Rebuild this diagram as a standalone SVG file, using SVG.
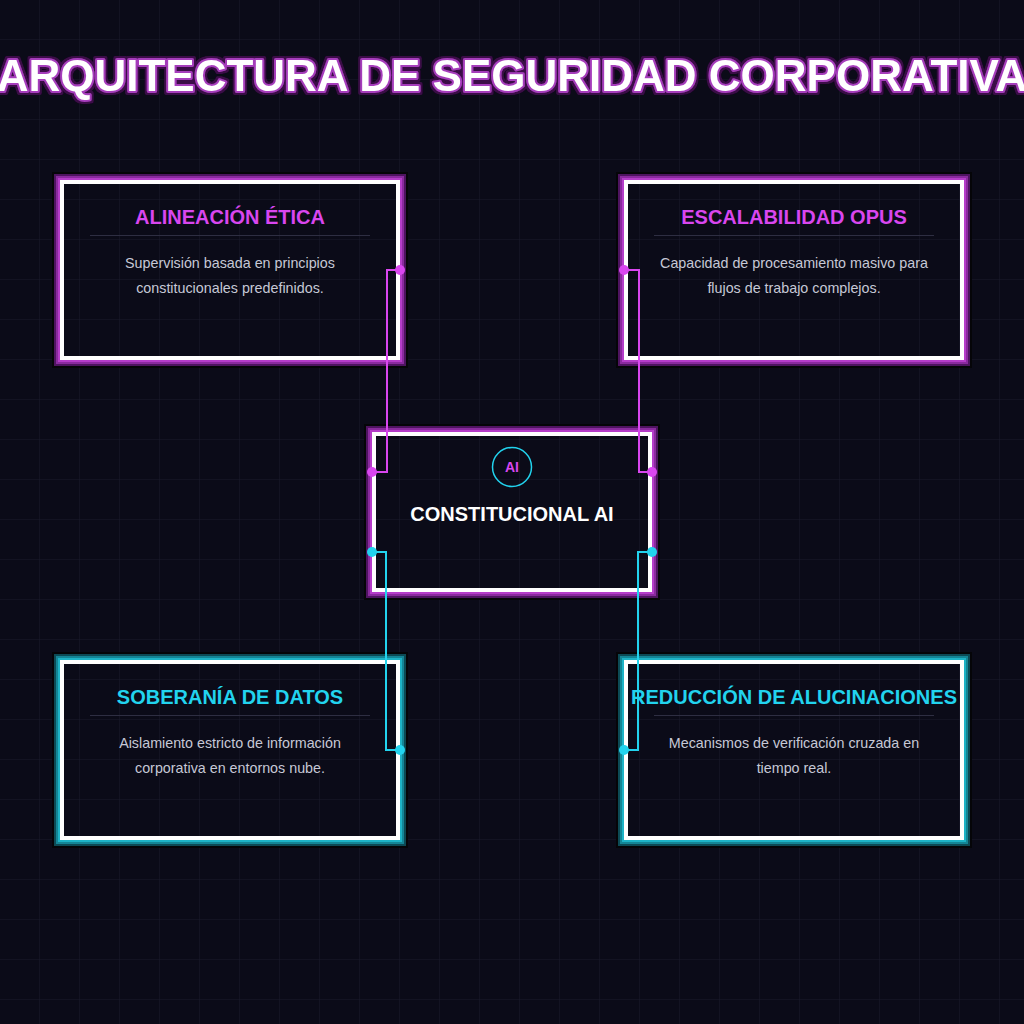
<svg xmlns="http://www.w3.org/2000/svg" width="1024" height="1024" viewBox="0 0 1024 1024">
<defs>
<pattern id="grid" width="40" height="40" patternUnits="userSpaceOnUse">
<path d="M40 0V40M0 40H40" fill="none" stroke="#1a1a2c" stroke-width="1"/>
</pattern>
<filter id="halo" x="-5%" y="-30%" width="110%" height="160%">
<feMorphology in="SourceAlpha" operator="dilate" radius="2" result="d"/>
<feFlood flood-color="#3a0a46"/>
<feComposite in2="d" operator="in" result="h"/>
<feMerge><feMergeNode in="h"/><feMergeNode in="SourceGraphic"/></feMerge>
</filter>
<style>
.b0{fill:none;stroke:#050508;stroke-width:2}
.m1{fill:none;stroke:#4e1460;stroke-width:2}
.m2{fill:none;stroke:#8a2a9e;stroke-width:2}
.m3{fill:none;stroke:#b53cc9;stroke-width:2}
.c1{fill:none;stroke:#0c4a55;stroke-width:2}
.c2{fill:none;stroke:#148595;stroke-width:2}
.c3{fill:none;stroke:#1db3c6;stroke-width:2}
.w{fill:none;stroke:#ffffff;stroke-width:4}
.title{font-family:"Liberation Sans",Arial,sans-serif;font-weight:bold;font-size:44px;fill:#ffffff;stroke:#a53cbb;stroke-width:4;paint-order:stroke;stroke-linejoin:round}
.h{font-family:"Liberation Sans",Arial,sans-serif;font-weight:bold;font-size:20px;text-anchor:middle}
.hm{fill:#d946ef}
.hc{fill:#22d3ee}
.body{font-family:"Liberation Sans",Arial,sans-serif;font-size:14.3px;fill:#c6c8d6;text-anchor:middle}
.sep{stroke:#2e2e42;stroke-width:1}
.lm{fill:none;stroke:#d946ef;stroke-width:2}
.lc{fill:none;stroke:#22d3ee;stroke-width:2}
.dm{fill:#d946ef}
.dc{fill:#22d3ee}
</style>
</defs>
<rect width="1024" height="1024" fill="#0b0b18"/>
<rect width="1024" height="1024" fill="url(#grid)"/>

<text class="title" x="512" y="91" text-anchor="middle" filter="url(#halo)">ARQUITECTURA DE SEGURIDAD CORPORATIVA</text>

<g id="node-alineacion">
<rect class="b0" x="53" y="173" width="354" height="194"/>
<rect class="m1" x="55" y="175" width="350" height="190"/>
<rect class="m2" x="57" y="177" width="346" height="186"/>
<rect class="m3" x="59" y="179" width="342" height="182"/>
<rect class="w" x="62" y="182" width="336" height="176"/>
<text class="h hm" x="230" y="224">ALINEACIÓN ÉTICA</text>
<line class="sep" x1="90" y1="235.5" x2="370" y2="235.5"/>
<text class="body" x="230" y="268">Supervisión basada en principios</text>
<text class="body" x="230" y="293">constitucionales predefinidos.</text>
</g>

<g id="node-escalabilidad">
<rect class="b0" x="617" y="173" width="354" height="194"/>
<rect class="m1" x="619" y="175" width="350" height="190"/>
<rect class="m2" x="621" y="177" width="346" height="186"/>
<rect class="m3" x="623" y="179" width="342" height="182"/>
<rect class="w" x="626" y="182" width="336" height="176"/>
<text class="h hm" x="794" y="224">ESCALABILIDAD OPUS</text>
<line class="sep" x1="654" y1="235.5" x2="934" y2="235.5"/>
<text class="body" x="794" y="268">Capacidad de procesamiento masivo para</text>
<text class="body" x="794" y="293">flujos de trabajo complejos.</text>
</g>

<g id="node-soberania">
<rect class="b0" x="53" y="653" width="354" height="194"/>
<rect class="c1" x="55" y="655" width="350" height="190"/>
<rect class="c2" x="57" y="657" width="346" height="186"/>
<rect class="c3" x="59" y="659" width="342" height="182"/>
<rect class="w" x="62" y="662" width="336" height="176"/>
<text class="h hc" x="230" y="704">SOBERANÍA DE DATOS</text>
<line class="sep" x1="90" y1="715.5" x2="370" y2="715.5"/>
<text class="body" x="230" y="748">Aislamiento estricto de información</text>
<text class="body" x="230" y="773">corporativa en entornos nube.</text>
</g>

<g id="node-reduccion">
<rect class="b0" x="617" y="653" width="354" height="194"/>
<rect class="c1" x="619" y="655" width="350" height="190"/>
<rect class="c2" x="621" y="657" width="346" height="186"/>
<rect class="c3" x="623" y="659" width="342" height="182"/>
<rect class="w" x="626" y="662" width="336" height="176"/>
<text class="h hc" x="794" y="704">REDUCCIÓN DE ALUCINACIONES</text>
<line class="sep" x1="654" y1="715.5" x2="934" y2="715.5"/>
<text class="body" x="794" y="748">Mecanismos de verificación cruzada en</text>
<text class="body" x="794" y="773">tiempo real.</text>
</g>

<g id="node-center">
<rect class="b0" x="365" y="425" width="294" height="174"/>
<rect class="m1" x="367" y="427" width="290" height="170"/>
<rect class="m2" x="369" y="429" width="286" height="166"/>
<rect class="m3" x="371" y="431" width="282" height="162"/>
<rect class="w" x="374" y="434" width="276" height="156"/>
<circle cx="512" cy="467" r="19.5" fill="none" stroke="#22d3ee" stroke-width="1.5"/>
<text class="h hm" x="512" y="472" style="font-size:14px">AI</text>
<text class="h" x="512" y="521" fill="#ffffff">CONSTITUCIONAL AI</text>
</g>

<g id="connectors">
<path class="lm" d="M400 270H387V472H372"/>
<path class="lm" d="M624 270H639V472H652"/>
<path class="lc" d="M372 552H386V750H400"/>
<path class="lc" d="M652 552H638V750H624"/>
<circle class="dm" cx="400" cy="270" r="5"/>
<circle class="dm" cx="372" cy="472" r="5"/>
<circle class="dm" cx="624" cy="270" r="5"/>
<circle class="dm" cx="652" cy="472" r="5"/>
<circle class="dc" cx="372" cy="552" r="5"/>
<circle class="dc" cx="400" cy="750" r="5"/>
<circle class="dc" cx="652" cy="552" r="5"/>
<circle class="dc" cx="624" cy="750" r="5"/>
</g>
</svg>
